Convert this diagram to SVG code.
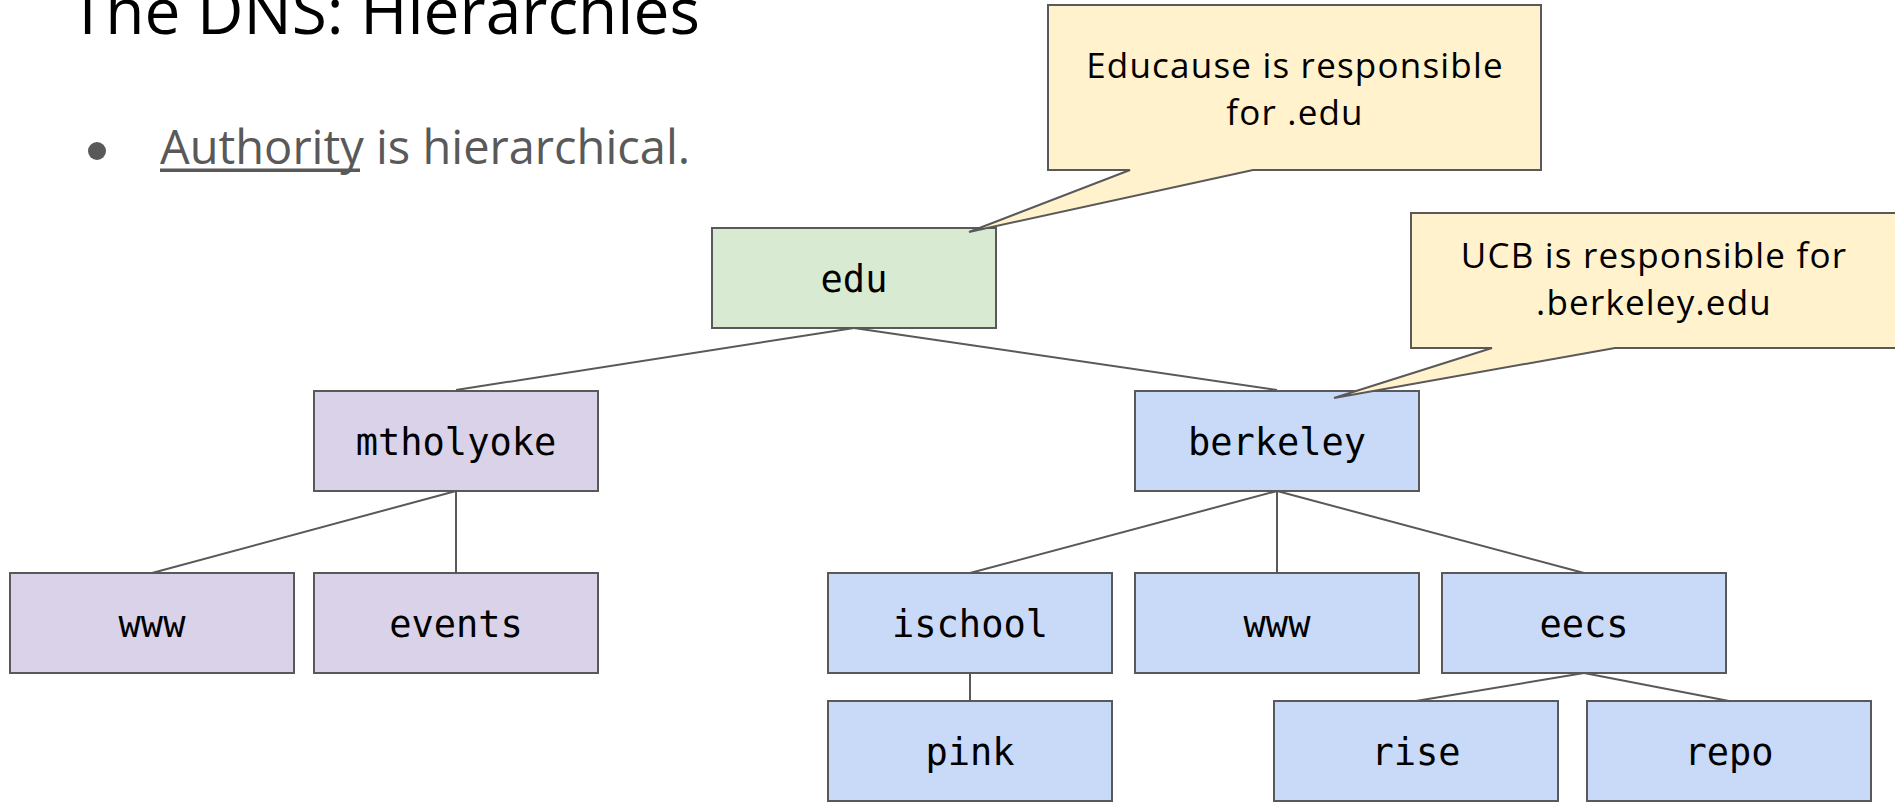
<svg xmlns="http://www.w3.org/2000/svg" width="1895" height="804" viewBox="0 0 1895 804">
<style>
  .box { stroke: #595959; stroke-width: 2; }
  .green { fill: #d9ead3; }
  .purple { fill: #d9d2e9; }
  .blue { fill: #c9daf8; }
  .call { fill: #fff2cc; stroke: #595959; stroke-width: 2; stroke-linejoin: miter; }
  .lbl { font-family: "DejaVu Sans Mono", "Liberation Mono", monospace; font-size: 37px; fill: #000; text-anchor: middle; }
  .ctext { font-family: "Open Sans", "Noto Sans", sans-serif; font-size: 35px; fill: #000; text-anchor: middle; letter-spacing: 1.2px; }
  .conn line { stroke: #595959; stroke-width: 2; }
</style>
<rect width="1895" height="804" fill="#ffffff"/>
<text x="70" y="34" font-family="Open Sans, Noto Sans, sans-serif" font-size="64" fill="#000">The DNS: Hierarchies</text>
<circle cx="97" cy="151" r="9" fill="#595959"/>
<text x="160" y="164" font-family="Open Sans, Noto Sans, sans-serif" font-size="47" fill="#595959">Authority is hierarchical.</text>
<rect x="160" y="168.5" width="200" height="3.5" fill="#595959"/>
<g id="connectors" class="conn">
  <line x1="854" y1="328" x2="456" y2="390"/>
  <line x1="854" y1="328" x2="1277" y2="390"/>
  <line x1="456" y1="491" x2="152" y2="573"/>
  <line x1="456" y1="491" x2="456" y2="573"/>
  <line x1="1277" y1="491" x2="970" y2="573"/>
  <line x1="1277" y1="491" x2="1277" y2="573"/>
  <line x1="1277" y1="491" x2="1584" y2="573"/>
  <line x1="970" y1="673" x2="970" y2="701"/>
  <line x1="1584" y1="673" x2="1416" y2="701"/>
  <line x1="1584" y1="673" x2="1729" y2="701"/>
</g>
<g id="edu"><rect class="box green" x="712" y="228" width="284" height="100"/><text class="lbl" x="854" y="292">edu</text></g>
<g id="mtholyoke"><rect class="box purple" x="314" y="391" width="284" height="100"/><text class="lbl" x="456" y="455">mtholyoke</text></g>
<g id="berkeley"><rect class="box blue" x="1135" y="391" width="284" height="100"/><text class="lbl" x="1277" y="455">berkeley</text></g>
<g id="mth-www"><rect class="box purple" x="10" y="573" width="284" height="100"/><text class="lbl" x="152" y="637">www</text></g>
<g id="events"><rect class="box purple" x="314" y="573" width="284" height="100"/><text class="lbl" x="456" y="637">events</text></g>
<g id="ischool"><rect class="box blue" x="828" y="573" width="284" height="100"/><text class="lbl" x="970" y="637">ischool</text></g>
<g id="berk-www"><rect class="box blue" x="1135" y="573" width="284" height="100"/><text class="lbl" x="1277" y="637">www</text></g>
<g id="eecs"><rect class="box blue" x="1442" y="573" width="284" height="100"/><text class="lbl" x="1584" y="637">eecs</text></g>
<g id="pink"><rect class="box blue" x="828" y="701" width="284" height="100"/><text class="lbl" x="970" y="765">pink</text></g>
<g id="rise"><rect class="box blue" x="1274" y="701" width="284" height="100"/><text class="lbl" x="1416" y="765">rise</text></g>
<g id="repo"><rect class="box blue" x="1587" y="701" width="284" height="100"/><text class="lbl" x="1729" y="765">repo</text></g>
<g id="callout-educause">
  <polygon class="call" points="1048,5 1541,5 1541,170 1253,170 969,232 1130,170 1048,170"/>
  <text class="ctext" x="1295" y="78">Educause is responsible</text>
  <text class="ctext" x="1295" y="125">for .edu</text>
</g>
<g id="callout-ucb">
  <polygon class="call" points="1411,213 1898,213 1898,348 1615,348 1334,398 1492,348 1411,348"/>
  <text class="ctext" x="1654" y="268">UCB is responsible for</text>
  <text class="ctext" x="1654" y="315">.berkeley.edu</text>
</g>
</svg>
